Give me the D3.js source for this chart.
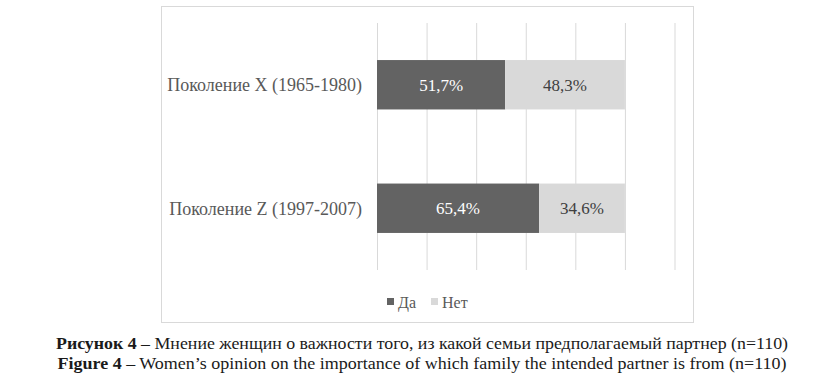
<!DOCTYPE html>
<html>
<head>
<meta charset="utf-8">
<script src="https://cdn.jsdelivr.net/npm/d3@7"></script>
<style>
  body { margin: 0; background: #fff; }
  svg { display: block; }
  svg text { font-family: "Liberation Serif", "DejaVu Serif", "Times New Roman", Times, serif; }
</style>
</head>
<body>
<svg id="chart"></svg>
<script>
const categories = ["Поколение X (1965-1980)", "Поколение Z (1997-2007)"]
const seriesNames = ["Да", "Нет"]
const yesValues = [51.7, 65.4]
const noValues = [48.3, 34.6]
const gridTicks = [0, 20, 40, 60, 80, 100, 120]
const captionLines = [
    ["Рисунок 4", " – Мнение женщин о важности того, из какой семьи предполагаемый партнер (n=110)"],
    ["Figure 4", " – Women’s opinion on the importance of which family the intended partner is from (n=110)"]
]

const width = 840,
    height = 381

const colors = ["#636363", "#d9d9d9"]
const labelColors = ["#ffffff", "#404040"]

const svg = d3.select("#chart")
    .attr("width", width)
    .attr("height", height)

// outer chart frame
svg.append("rect")
    .attr("x", 161.5).attr("y", 6.5)
    .attr("width", 532).attr("height", 316)
    .attr("fill", "none")
    .attr("stroke", "#d9d9d9")

const plot = { left: 377, right: 674.5, top: 23, bottom: 270 }

const x = d3.scaleLinear()
    .domain([0, 120])
    .range([plot.left, plot.right])

const y = d3.scaleBand()
    .domain(categories)
    .range([plot.top, plot.bottom])
    .paddingInner(0.6)
    .paddingOuter(0.3)

// vertical gridlines
svg.append("g")
    .attr("transform", `translate(0,${plot.bottom})`)
    .call(d3.axisBottom(x).tickValues(gridTicks).tickSize(-(plot.bottom - plot.top)).tickFormat(""))
    .call(g => g.select(".domain").remove())
    .call(g => g.selectAll(".tick line").attr("stroke", "#d9d9d9"))

// stacked data
const rows = categories.map((c, i) => ({ cat: c, "Да": yesValues[i], "Нет": noValues[i] }))
const stacked = d3.stack().keys(seriesNames)(rows)

const layers = svg.selectAll("g.layer")
    .data(stacked)
    .enter()
    .append("g")
    .attr("class", "layer")

layers.each(function (layer, li) {
    const g = d3.select(this)
    g.selectAll("rect")
        .data(layer)
        .enter()
        .append("rect")
        .attr("x", d => x(d[0]))
        .attr("y", d => y(d.data.cat))
        .attr("width", d => x(d[1]) - x(d[0]))
        .attr("height", y.bandwidth())
        .attr("fill", colors[li])

    g.selectAll("text")
        .data(layer)
        .enter()
        .append("text")
        .attr("x", d => (x(d[0]) + x(d[1])) / 2)
        .attr("y", d => y(d.data.cat) + y.bandwidth() / 2)
        .attr("dy", "0.35em")
        .attr("text-anchor", "middle")
        .attr("font-size", 17)
        .attr("fill", labelColors[li])
        .text(d => (d[1] - d[0]).toFixed(1).replace(".", ",") + "%")
})

// category labels
svg.append("g")
    .selectAll("text")
    .data(categories)
    .enter()
    .append("text")
    .attr("x", plot.left - 15)
    .attr("y", d => y(d) + y.bandwidth() / 2)
    .attr("dy", "0.35em")
    .attr("text-anchor", "end")
    .attr("font-size", 18)
    .attr("fill", "#595959")
    .text(d => d)

// legend
const legendX = [387, 431]
const legend = svg.append("g")
    .selectAll("g")
    .data(seriesNames)
    .enter()
    .append("g")
    .attr("transform", (d, i) => `translate(${legendX[i]},297)`)

legend.append("rect")
    .attr("width", 7).attr("height", 7)
    .attr("y", 1)
    .attr("fill", (d, i) => colors[i])

legend.append("text")
    .attr("x", 11)
    .attr("y", 5)
    .attr("dy", "0.35em")
    .attr("font-size", 16)
    .attr("fill", "#595959")
    .text(d => d)

// caption
const capY = [349, 369]
const capLen = [732, 729]
captionLines.forEach((parts, i) => {
    const t = svg.append("text")
        .attr("x", 422)
        .attr("y", capY[i])
        .attr("text-anchor", "middle")
        .attr("font-size", 17)
        .attr("fill", "#1a1a1a")
        .attr("textLength", capLen[i])
        .attr("lengthAdjust", "spacingAndGlyphs")
    t.append("tspan").attr("font-weight", "bold").text(parts[0])
    t.append("tspan").text(parts[1])
})
</script>
</body>
</html>
